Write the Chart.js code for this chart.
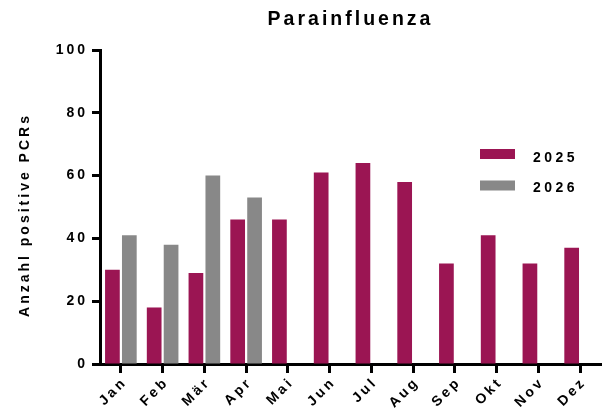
<!DOCTYPE html>
<html>
<head>
<meta charset="utf-8">
<script src="https://cdn.jsdelivr.net/npm/chart.js@4"></script>
<style>
  html, body { margin: 0; padding: 0; background: #fff; }
  #wrap { width: 605px; height: 416px; }
</style>
</head>
<body>
<div id="wrap"><canvas id="chart"></canvas></div>
<script>
const months = ["Jan", "Feb", "Mär", "Apr", "Mai", "Jun", "Jul", "Aug", "Sep", "Okt", "Nov", "Dez"];
const values2025 = [30, 18, 29, 46, 46, 61, 64, 58, 32, 41, 32, 37];
const values2026 = [41, 38, 60, 53, null, null, null, null, null, null, null, null];
const seriesNames = ["2025", "2026"];
const seriesColors = ["#9b1553", "#888888"];
const yTitle = "Anzahl positive PCRs";

const FONT = "'Liberation Sans', Arial, sans-serif";

// canvas letter spacing for the library's own text (title + ticks)
const letterSpacing = {
  id: "letterSpacing",
  beforeLayout(chart) { chart.ctx.letterSpacing = "3px"; },
  beforeDraw(chart) { chart.ctx.letterSpacing = "3px"; }
};

// axis title and legend as in the prism figure
const extras = {
  id: "extras",
  afterDraw(chart) {
    const ctx = chart.ctx;
    ctx.save();
    ctx.fillStyle = "#000";
    ctx.letterSpacing = "3px";
    ctx.font = "bold 14px " + FONT;
    ctx.textAlign = "center";
    ctx.textBaseline = "middle";
    ctx.translate(25, 215);
    ctx.rotate(-Math.PI / 2);
    ctx.fillText(yTitle, 0, 0);
    ctx.restore();

    ctx.save();
    ctx.letterSpacing = "3.5px";
    ctx.font = "bold 14px " + FONT;
    ctx.textAlign = "left";
    ctx.textBaseline = "middle";
    chart.data.datasets.forEach((ds, i) => {
      ctx.fillStyle = ds.backgroundColor;
      ctx.fillRect(480, 149 + i * 31.5, 35, 10);
      ctx.fillStyle = "#000";
      ctx.fillText(ds.label, 533, 158 + i * 30);
    });
    ctx.restore();
  }
};

new Chart(document.getElementById("chart"), {
  type: "bar",
  data: {
    labels: months,
    datasets: [
      { label: seriesNames[0], data: values2025, backgroundColor: seriesColors[0] },
      { label: seriesNames[1], data: values2026, backgroundColor: seriesColors[1] }
    ]
  },
  options: {
    responsive: true,
    maintainAspectRatio: false,
    animation: false,
    categoryPercentage: 0.81,
    barPercentage: 0.87,
    layout: { padding: { left: 0, right: 4, top: 0, bottom: 0 } },
    plugins: {
      legend: { display: false },
      tooltip: { enabled: false },
      title: {
        display: true,
        text: "Parainfluenza",
        color: "#000",
        fullSize: false,
        font: { family: FONT, size: 19.5, weight: "bold" },
        padding: { top: 8, bottom: 18.6 }
      }
    },
    scales: {
      x: {
        grid: { display: true, drawOnChartArea: false, offset: false, tickLength: 9, tickWidth: 3, tickColor: "#000" },
        border: { display: true, color: "#000", width: 3 },
        ticks: {
          color: "#000",
          autoSkip: false,
          minRotation: 45,
          maxRotation: 45,
          padding: 1,
          labelOffset: 4,
          font: { family: FONT, size: 14, weight: "bold" }
        },
        afterFit(scale) { scale.height = 52; }
      },
      y: {
        min: 0,
        max: 100,
        grid: { display: true, drawOnChartArea: false, tickLength: 8, tickWidth: 3, tickColor: "#000" },
        border: { display: true, color: "#000", width: 3 },
        ticks: {
          stepSize: 20,
          color: "#000",
          padding: 4,
          font: { family: FONT, size: 14, weight: "bold" }
        },
        afterFit(scale) { scale.width = 100; }
      }
    }
  },
  plugins: [letterSpacing, extras]
});
</script>
</body>
</html>
